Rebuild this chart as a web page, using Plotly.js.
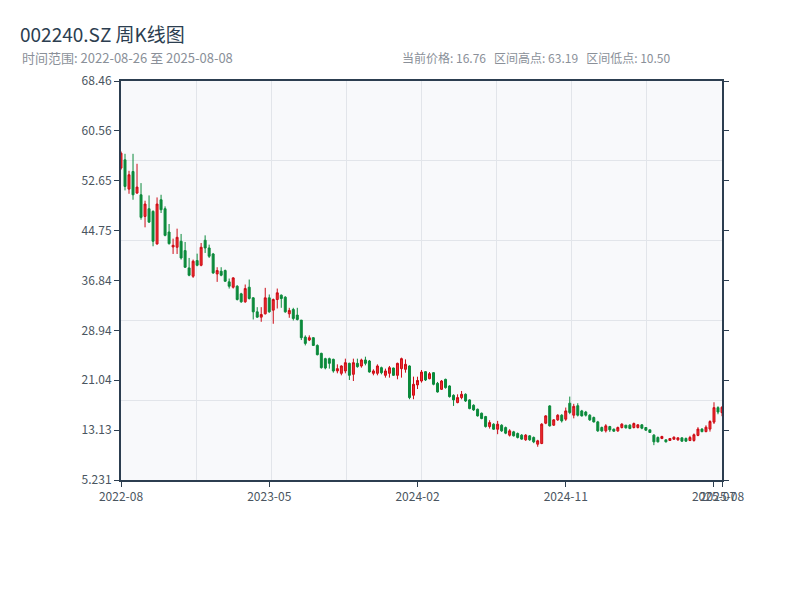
<!DOCTYPE html>
<html>
<head>
<meta charset="utf-8">
<script src="https://cdn.plot.ly/plotly-3.0.1.min.js"></script>
<style>html,body{margin:0;padding:0;background:#fff;}#chart{width:800px;height:600px;}</style>
</head>
<body>
<div id="chart"></div>
<script>
// Weekly bar dates (holiday weeks with no trading are absent)
const dates = [
'2022-08-26','2022-09-02','2022-09-09','2022-09-16','2022-09-23','2022-09-30','2022-10-14','2022-10-21','2022-10-28','2022-11-04',
'2022-11-11','2022-11-18','2022-11-25','2022-12-02','2022-12-09','2022-12-16','2022-12-23','2022-12-30','2023-01-06','2023-01-13',
'2023-01-20','2023-02-03','2023-02-10','2023-02-17','2023-02-24','2023-03-03','2023-03-10','2023-03-17','2023-03-24','2023-03-31',
'2023-04-07','2023-04-14','2023-04-21','2023-04-28','2023-05-05','2023-05-12','2023-05-19','2023-05-26','2023-06-02','2023-06-09',
'2023-06-16','2023-06-23','2023-06-30','2023-07-07','2023-07-14','2023-07-21','2023-07-28','2023-08-04','2023-08-11','2023-08-18',
'2023-08-25','2023-09-01','2023-09-08','2023-09-15','2023-09-22','2023-09-28','2023-10-13','2023-10-20','2023-10-27','2023-11-03',
'2023-11-10','2023-11-17','2023-11-24','2023-12-01','2023-12-08','2023-12-15','2023-12-22','2023-12-29','2024-01-05','2024-01-12',
'2024-01-19','2024-01-26','2024-02-02','2024-02-08','2024-02-23','2024-03-01','2024-03-08','2024-03-15','2024-03-22','2024-03-29',
'2024-04-03','2024-04-12','2024-04-19','2024-04-26','2024-04-30','2024-05-10','2024-05-17','2024-05-24','2024-05-31','2024-06-07',
'2024-06-14','2024-06-21','2024-06-28','2024-07-05','2024-07-12','2024-07-19','2024-07-26','2024-08-02','2024-08-09','2024-08-16',
'2024-08-23','2024-08-30','2024-09-06','2024-09-13','2024-09-20','2024-09-27','2024-09-30','2024-10-11','2024-10-18','2024-10-25',
'2024-11-01','2024-11-08','2024-11-15','2024-11-22','2024-11-29','2024-12-06','2024-12-13','2024-12-20','2024-12-27','2025-01-03',
'2025-01-10','2025-01-17','2025-01-24','2025-01-27','2025-02-07','2025-02-14','2025-02-21','2025-02-28','2025-03-07','2025-03-14',
'2025-03-21','2025-03-28','2025-04-03','2025-04-11','2025-04-18','2025-04-25','2025-04-30','2025-05-09','2025-05-16','2025-05-23',
'2025-05-30','2025-06-06','2025-06-13','2025-06-20','2025-06-27','2025-07-04','2025-07-11','2025-07-18','2025-07-25','2025-08-01',
'2025-08-08'];

const openP = [
54.66,55.97,51.33,54.12,50.70,50.43,47.00,48.22,47.80,42.64,
49.64,48.22,44.53,42.16,42.11,43.06,41.58,38.84,37.52,40.00,
39.26,43.22,42.00,41.05,37.89,38.31,38.42,36.63,35.78,35.94,
34.73,33.47,35.78,34.10,31.88,31.04,31.57,34.10,32.15,33.83,
34.52,34.20,31.57,32.25,31.36,30.57,27.88,27.41,27.78,26.56,
25.30,24.46,24.46,24.35,22.51,22.14,22.51,23.72,21.98,23.72,
23.30,24.25,24.09,22.14,22.14,23.03,21.82,22.14,22.98,21.82,
22.88,22.77,23.30,18.66,20.30,20.92,22.40,21.29,22.24,20.55,
19.60,21.18,20.13,18.65,17.50,18.29,18.81,17.92,17.07,16.44,
15.81,15.28,13.70,14.07,13.28,13.91,13.54,12.33,12.86,12.60,
12.34,11.60,12.23,11.97,10.91,11.02,14.23,16.97,13.92,14.76,
15.50,14.87,17.40,15.50,17.00,16.18,16.00,15.50,15.13,14.44,
13.55,13.02,13.70,13.28,13.02,13.55,13.92,13.92,13.55,13.55,
13.97,13.55,13.18,12.34,11.97,11.81,11.60,11.49,11.70,11.60,
11.91,11.81,11.49,11.50,12.30,13.30,12.90,13.30,14.40,16.70,
15.90];

const highP = [
57.30,56.92,54.23,56.92,55.34,52.28,49.49,50.33,47.96,50.01,
50.43,48.59,45.80,43.48,45.06,44.22,42.95,40.42,40.16,41.10,
42.79,44.00,42.53,41.21,38.95,38.95,38.58,37.16,37.37,36.10,
34.89,36.21,37.00,34.20,32.62,32.62,35.68,34.63,33.99,35.57,
34.63,34.36,32.52,32.52,32.52,30.57,28.15,28.15,27.88,26.72,
25.40,24.60,24.62,24.46,23.56,23.40,24.46,23.82,24.46,24.46,
24.46,24.77,24.25,22.77,23.56,23.19,22.88,23.30,23.03,23.82,
24.62,24.35,23.40,21.61,21.60,22.66,22.50,22.34,22.34,20.77,
21.08,21.29,20.24,18.81,18.81,19.34,18.97,18.02,17.23,16.55,
15.92,15.39,14.70,14.23,14.60,14.07,13.70,13.28,13.02,12.76,
12.50,12.50,12.34,12.13,11.60,14.23,15.50,17.08,14.87,15.66,
15.66,16.71,18.45,17.30,17.40,16.34,16.18,15.66,15.29,14.60,
13.70,14.08,13.81,13.39,13.70,14.23,13.92,14.08,14.34,14.08,
14.08,13.55,13.18,12.50,12.13,12.23,11.60,11.81,12.13,11.97,
11.97,11.97,12.23,12.60,13.60,13.44,13.90,14.70,17.55,16.92,
16.92];

const lowP = [
54.40,51.12,50.59,49.64,50.59,46.48,45.27,45.96,42.27,42.53,
47.54,43.85,42.53,41.05,41.05,40.16,38.84,37.52,37.26,39.10,
39.10,41.21,40.42,37.89,36.63,37.52,36.63,35.57,35.57,33.68,
33.31,33.31,33.83,30.67,30.94,30.30,31.46,31.73,29.99,32.41,
32.52,31.73,30.94,30.51,30.51,27.41,26.56,27.25,26.46,24.98,
22.88,22.77,22.88,22.24,22.14,21.82,22.14,21.08,20.92,23.03,
23.03,23.40,22.24,21.82,21.82,21.98,21.45,21.45,21.72,21.19,
21.45,22.24,18.03,18.03,19.65,20.66,20.92,21.19,20.24,19.08,
19.50,19.71,18.29,16.97,17.39,18.02,17.60,16.44,16.18,15.28,
14.86,13.54,13.38,13.17,12.49,12.86,12.49,12.12,12.12,11.81,
11.60,11.44,11.44,11.07,10.50,10.91,14.08,13.70,13.81,14.60,
14.34,14.60,15.66,15.00,15.30,15.29,15.29,14.60,14.34,12.86,
12.86,12.76,12.86,12.86,12.86,13.39,13.39,13.28,13.39,13.39,
13.28,13.02,12.76,10.75,11.18,11.70,11.18,11.44,11.60,11.44,
11.28,11.28,11.39,11.30,12.17,12.80,12.80,12.90,14.10,15.65,
15.34];

const closeP = [
57.03,51.75,53.60,50.43,51.65,46.85,48.96,46.10,43.06,48.96,
48.06,44.00,42.69,42.42,43.69,40.42,38.95,37.68,39.90,39.26,
42.11,42.00,40.69,38.05,38.42,37.68,36.73,35.94,37.26,33.83,
33.47,35.57,33.99,31.88,31.04,31.46,34.10,31.88,33.83,34.89,
33.99,31.88,32.10,30.83,30.67,27.78,26.88,27.78,26.56,25.09,
23.03,22.98,23.72,22.51,22.88,23.30,23.82,21.82,23.82,23.19,
24.25,23.72,22.35,22.51,23.30,22.24,22.51,23.03,21.82,23.72,
24.46,23.56,18.29,20.40,21.00,22.34,21.08,22.08,20.40,19.18,
20.92,19.87,18.44,17.92,18.29,18.81,17.76,16.55,16.34,15.39,
14.97,13.70,14.33,13.28,14.07,13.02,12.65,13.02,12.23,11.97,
11.71,12.34,11.60,11.28,11.44,14.08,15.39,13.81,14.76,15.50,
14.60,16.18,15.92,16.90,15.50,15.39,15.50,14.76,14.44,13.02,
13.02,13.81,13.18,12.97,13.55,14.08,13.50,13.39,14.18,13.97,
13.44,13.13,12.76,11.28,11.28,12.13,11.28,11.81,12.02,11.91,
11.39,11.39,11.97,12.40,13.30,12.90,13.60,14.50,16.70,16.00,
16.76];

const tickIdx = [0, 37, 74, 111, 148, 150];
const tickLabels = ['2022-08','2023-05','2024-02','2024-11','2025-07','2025-08'];
const yTicks = [5.231, 13.13, 21.04, 28.94, 36.84, 44.75, 52.65, 60.56, 68.46];
const yTickLabels = ['5.231','13.13','21.04','28.94','36.84','44.75','52.65','60.56','68.46'];

const titleText = '002240.SZ 周K线图';
const rangeText = '时间范围: ' + dates[0] + ' 至 ' + dates[dates.length-1];
const statsText = '当前价格: 16.76   区间高点: 63.19   区间低点: 10.50';

const fontFam = '"Noto Sans CJK SC", "Noto Sans", sans-serif';
const axisCol = '#2c3e50';

const traces = [
  {
    type: 'candlestick',
    x: dates, open: openP, high: highP, low: lowP, close: closeP,
    increasing: {line: {color: '#cc0a14', width: 1}, fillcolor: '#ee2f2f'},
    decreasing: {line: {color: '#0b8a3b', width: 1}, fillcolor: '#0b8a3b'},
    whiskerwidth: 0,
    showlegend: false,
    hoverinfo: 'x+y'
  },
  {type: 'scatter', x: [], y: [], xaxis: 'x2', yaxis: 'y2', showlegend: false, hoverinfo: 'skip'}
];

const L = 121, R = 78, T = 81, B = 120, W = 800, H = 600;
const pw = W - L - R, ph = H - T - B;
const px = v => (v - L) / pw;
const py = v => (H - B - v) / ph;

const layout = {
  width: W, height: H,
  margin: {l: L, r: R, t: T, b: B},
  paper_bgcolor: '#ffffff',
  plot_bgcolor: '#f8f9fb',
  font: {family: fontFam, size: 12, color: '#4a5560'},
  showlegend: false,
  title: {
    text: titleText,
    xref: 'container', yref: 'container',
    x: 20 / W, xanchor: 'left',
    y: 1 - 35 / H, yanchor: 'middle',
    font: {family: fontFam, size: 19, color: '#2c3e50'}
  },
  xaxis: {
    type: 'category',
    range: [0, dates.length - 1],
    rangeslider: {visible: false},
    tickmode: 'array',
    tickvals: tickIdx.map(i => dates[i]),
    ticktext: tickLabels,
    tickangle: 0,
    showgrid: false, zeroline: false,
    showline: true, linecolor: axisCol, linewidth: 2, mirror: true,
    ticks: 'outside', ticklen: 5, tickwidth: 1, tickcolor: axisCol,
    tickfont: {size: 12, color: '#4a5560'}
  },
  yaxis: {
    range: [yTicks[0], yTicks[yTicks.length - 1]],
    tickmode: 'array', tickvals: yTicks, ticktext: yTickLabels,
    showgrid: false, zeroline: false,
    showline: true, linecolor: axisCol, linewidth: 2, mirror: 'ticks',
    ticks: 'outside', ticklen: 5, tickwidth: 1, tickcolor: axisCol,
    tickfont: {size: 12, color: '#4a5560'}
  },
  xaxis2: {
    overlaying: 'x', anchor: 'y2', range: [0, 8], dtick: 1,
    showgrid: true, gridcolor: '#e2e5ea', gridwidth: 1,
    showticklabels: false, ticks: '', zeroline: false, showline: false, fixedrange: true
  },
  yaxis2: {
    overlaying: 'y', anchor: 'x2', range: [0, 5], dtick: 1,
    showgrid: true, gridcolor: '#e2e5ea', gridwidth: 1,
    showticklabels: false, ticks: '', zeroline: false, showline: false, fixedrange: true
  },
  annotations: [
    {text: rangeText, xref: 'paper', yref: 'paper', x: px(20), y: py(58), xanchor: 'left', yanchor: 'middle',
     showarrow: false, font: {family: fontFam, size: 13, color: '#8a9099'}},
    {text: statsText, xref: 'paper', yref: 'paper', x: px(400), y: py(58), xanchor: 'left', yanchor: 'middle',
     showarrow: false, font: {family: fontFam, size: 12, color: '#8a9099'}}
  ]
};

Plotly.newPlot('chart', traces, layout, {displayModeBar: false, staticPlot: true});
</script>
</body>
</html>
